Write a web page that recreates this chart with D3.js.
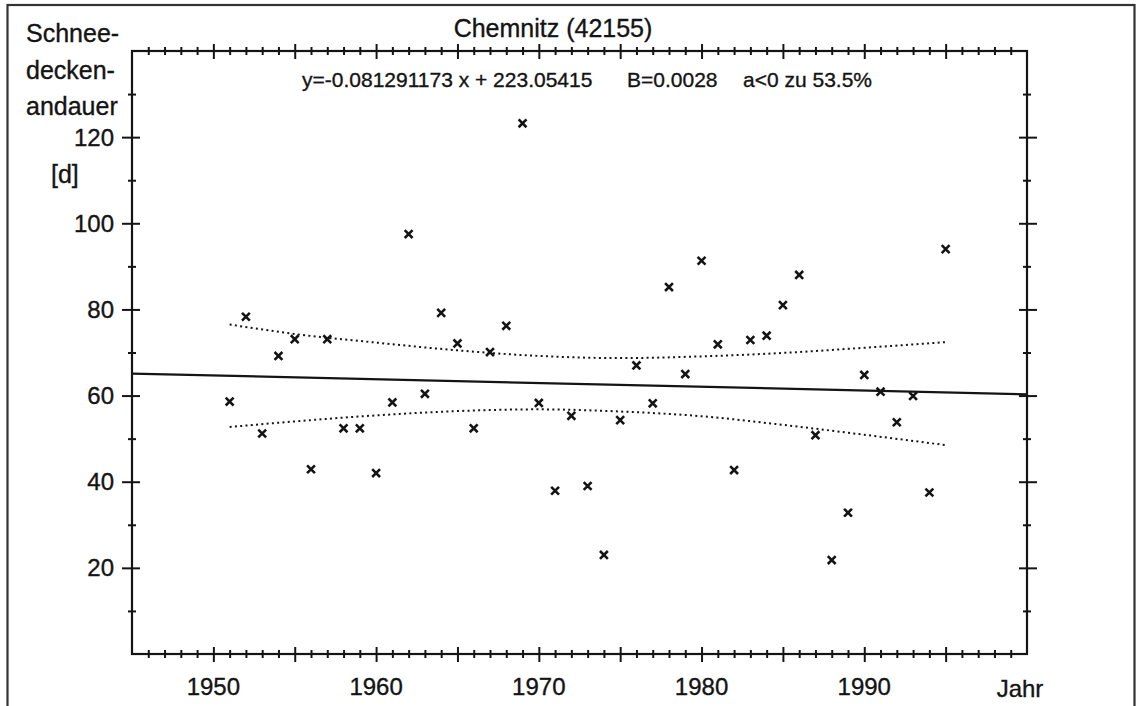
<!DOCTYPE html>
<html>
<head>
<meta charset="utf-8">
<script src="https://cdn.jsdelivr.net/npm/d3@7"></script>
<style>
  html, body { margin: 0; padding: 0; background: #fff; }
  svg { display: block; font-family: "Liberation Sans", Arial, Helvetica, sans-serif; }
  svg text { stroke: #141414; stroke-width: 0.35px; }
</style>
</head>
<body>
<svg id="chart" width="1139" height="706"></svg>
<script>
// ---- data ----
const years = [1951,1952,1953,1954,1955,1956,1957,1958,1959,1960,
               1961,1962,1963,1964,1965,1966,1967,1968,1969,1970,
               1971,1972,1973,1974,1975,1976,1977,1978,1979,1980,
               1981,1982,1983,1984,1985,1986,1987,1988,1989,1990,
               1991,1992,1993,1994,1995];
const snowDays = [58.6,78.3,51.2,69.2,73.1,42.9,73.1,52.4,52.4,42.0,
                  58.4,97.5,60.4,79.2,72.1,52.4,70.1,76.2,123.2,58.3,
                  37.9,55.3,39.0,23.0,54.3,67.0,58.2,85.2,65.0,91.3,
                  71.9,42.7,72.9,73.9,81.0,88.0,50.8,21.8,32.8,64.8,
                  60.9,53.8,59.9,37.5,94.0];
const trendYears = [1945, 2000];
const trendValues = [65.1, 60.3];
const bandYears = [1951,1955,1960,1965,1970,1975,1980,1985,1990,1995];
const bandUpper = [76.5,74.3,72.3,70.5,69.2,68.7,69.1,69.9,71.1,72.4];
const bandLower = [52.7,54.0,55.4,56.4,56.8,56.3,55.2,53.2,50.9,48.5];
const xMajorTicks = [1950,1955,1960,1965,1970,1975,1980,1985,1990,1995];
const xLabelTicks = [1950,1960,1970,1980,1990];
const yMajorTicks = [20,40,60,80,100,120];
const yMinorTicks = [10,30,50,70,90,110,130];
const titleText = "Chemnitz (42155)";
const equationParts = ["y=-0.081291173 x + 223.05415", "B=0.0028", "a<0 zu 53.5%"];
const yLabelLines = ["Schnee-", "decken-", "andauer"];
const yUnit = "[d]";
const xLabel = "Jahr";

(function () {
// ---- layout ----
const svg = d3.select("#chart");
const ink = "#141414";
const pLeft = 132, pRight = 1027, pTop = 51, pBottom = 654;

const x = d3.scaleLinear().domain([1945, 2000]).range([pLeft, pRight]);
const y = d3.scaleLinear().domain([0, 140]).range([pBottom, pTop]);

const xMinorTicks = d3.range(1946, 2000).filter(v => !xMajorTicks.includes(v));

// outer frame of the figure
svg.append("rect")
  .attr("x", 7.5).attr("y", 5).attr("width", 1127).attr("height", 760)
  .attr("fill", "none").attr("stroke", "#333").attr("stroke-width", 2.2);

// plot frame
svg.append("rect")
  .attr("x", pLeft).attr("y", pTop).attr("width", pRight - pLeft).attr("height", pBottom - pTop)
  .attr("fill", "none").attr("stroke", ink).attr("stroke-width", 2.2);

function crossTicks(g, orient, a, b) {
  g.select(".domain").remove();
  g.selectAll(".tick text").remove();
  g.selectAll(".tick line").each(function() {
    const l = d3.select(this).attr("stroke", ink).attr("stroke-width", 2);
    if (orient === "h") l.attr("y1", -b).attr("y2", a);
    else l.attr("x1", -a).attr("x2", b);
  });
}

// bottom axis
svg.append("g").attr("transform", `translate(0,${pBottom})`)
  .call(d3.axisBottom(x).tickValues(xMinorTicks).tickSize(4))
  .call(g => crossTicks(g, "h", 4, 4));
svg.append("g").attr("transform", `translate(0,${pBottom})`)
  .call(d3.axisBottom(x).tickValues(xMajorTicks).tickSize(8))
  .call(g => crossTicks(g, "h", 8, 7));
// top axis
svg.append("g").attr("transform", `translate(0,${pTop})`)
  .call(d3.axisTop(x).tickValues(xMinorTicks).tickSize(4))
  .call(g => crossTicks(g, "h", 4, 4));
svg.append("g").attr("transform", `translate(0,${pTop})`)
  .call(d3.axisTop(x).tickValues(xMajorTicks).tickSize(8))
  .call(g => crossTicks(g, "h", 8, 7));
// left axis
svg.append("g").attr("transform", `translate(${pLeft},0)`)
  .call(d3.axisLeft(y).tickValues(yMinorTicks).tickSize(4))
  .call(g => crossTicks(g, "v", 4, 4));
svg.append("g").attr("transform", `translate(${pLeft},0)`)
  .call(d3.axisLeft(y).tickValues(yMajorTicks).tickSize(10))
  .call(g => crossTicks(g, "v", 10, 8));
// right axis
svg.append("g").attr("transform", `translate(${pRight},0)`)
  .call(d3.axisLeft(y).tickValues(yMinorTicks).tickSize(4))
  .call(g => crossTicks(g, "v", 4, 4));
svg.append("g").attr("transform", `translate(${pRight},0)`)
  .call(d3.axisLeft(y).tickValues(yMajorTicks).tickSize(10))
  .call(g => crossTicks(g, "v", 8, 10));

// tick labels
svg.append("g").selectAll("text").data(xLabelTicks).join("text")
  .attr("x", d => x(d)).attr("y", 695)
  .attr("text-anchor", "middle").attr("font-size", 24).attr("fill", ink)
  .text(d => d);
svg.append("g").selectAll("text").data(yMajorTicks).join("text")
  .attr("x", 114).attr("y", d => y(d)).attr("dy", "0.36em")
  .attr("text-anchor", "end").attr("font-size", 24).attr("fill", ink)
  .text(d => d);

// axis titles
svg.append("g").selectAll("text").data(yLabelLines).join("text")
  .attr("x", 26).attr("y", (d, i) => 42 + i * 36.7)
  .attr("font-size", 25).attr("fill", ink)
  .text(d => d);
svg.append("text").attr("x", 51).attr("y", 183)
  .attr("font-size", 25).attr("fill", ink).text(yUnit);
svg.append("text").attr("x", 1020).attr("y", 697)
  .attr("text-anchor", "middle").attr("font-size", 24).attr("fill", ink).text(xLabel);

// title and equation
svg.append("text").attr("x", 553).attr("y", 37)
  .attr("text-anchor", "middle").attr("font-size", 25).attr("fill", ink).text(titleText);
const eqX = [302, 627, 743];
svg.append("g").selectAll("text").data(equationParts).join("text")
  .attr("x", (d, i) => eqX[i]).attr("y", 87)
  .attr("font-size", 21).attr("fill", ink)
  .text(d => d);

// regression line
const line = d3.line().x(d => x(d[0])).y(d => y(d[1]));
svg.append("path")
  .datum(trendYears.map((t, i) => [t, trendValues[i]]))
  .attr("d", line).attr("fill", "none").attr("stroke", ink).attr("stroke-width", 2.2);

// confidence bands (dotted)
const curve = d3.line().curve(d3.curveMonotoneX).x(d => x(d[0])).y(d => y(d[1]));
[bandUpper, bandLower].forEach(arr => {
  svg.append("path")
    .datum(bandYears.map((t, i) => [t, arr[i]]))
    .attr("d", curve).attr("fill", "none").attr("stroke", ink)
    .attr("stroke-width", 2).attr("stroke-dasharray", "2,3.3");
});

// data markers
const sym = d3.symbol().type(d3.symbolX).size(42);
svg.append("g").selectAll("path").data(years).join("path")
  .attr("transform", (d, i) => `translate(${x(d)},${y(snowDays[i])})`)
  .attr("d", sym).attr("fill", "none").attr("stroke", ink).attr("stroke-width", 2.6);
})();
</script>
</body>
</html>
